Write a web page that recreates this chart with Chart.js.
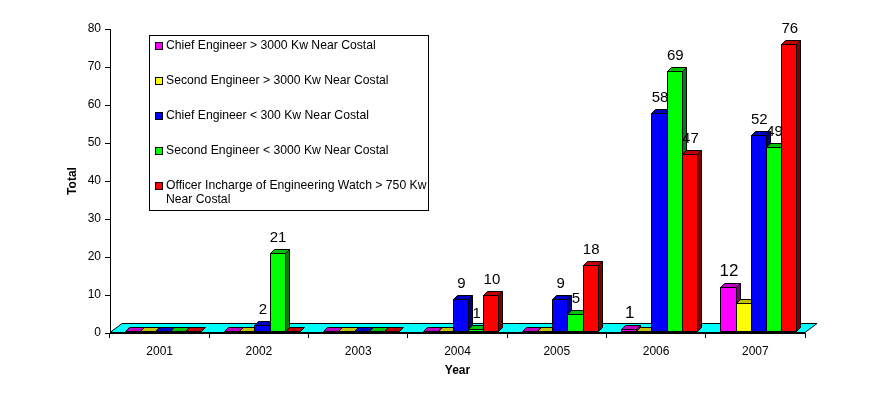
<!DOCTYPE html>
<html>
<head>
<meta charset="utf-8">
<script src="https://cdn.jsdelivr.net/npm/chart.js@4.4.0/dist/chart.umd.min.js"></script>
<style>
  html, body { margin: 0; padding: 0; background: #fff; }
  #wrap { width: 877px; height: 396px; }
</style>
</head>
<body>
<div id="wrap"><canvas id="chart" width="877" height="396"></canvas></div>
<script>
const years = ['2001', '2002', '2003', '2004', '2005', '2006', '2007'];
const seriesNames = [
  'Chief Engineer > 3000 Kw Near Costal',
  'Second Engineer > 3000 Kw Near Costal',
  'Chief Engineer < 300 Kw Near Costal',
  'Second Engineer < 3000 Kw Near Costal',
  'Officer Incharge of Engineering Watch > 750 Kw Near Costal'
];
const chiefAbove3000 = [0, 0, 0, 0, 0, 1, 12];
const secondAbove3000 = [0, 0, 0, 0, 0, 0, 8];
const chiefBelow300 = [0, 2, 0, 9, 9, 58, 52];
const secondBelow3000 = [0, 21, 0, 1, 5, 69, 49];
const officerWatch = [0, 0, 0, 10, 18, 47, 76];
const yMin = 0, yMax = 80, yStep = 10;

// colours for front, top and side faces of the 3d bars
const faceColors = ['#FF00FF', '#FFFF00', '#0000FF', '#00FF00', '#FF0000'];
const topColors = ['#C000C0', '#C0C000', '#0000C0', '#00C000', '#C00000'];
const sideColors = ['#800080', '#808000', '#000080', '#008000', '#800000'];
// label of the yellow 2007 bar is hidden in the original
const hiddenLabels = ['1-6'];

Chart.defaults.font.family = 'Arial, "Liberation Sans", sans-serif';
Chart.defaults.color = '#000';

const allSeries = [chiefAbove3000, secondAbove3000, chiefBelow300, secondBelow3000, officerWatch];
const depth = 4;
const shift = 3; // front faces sit a bit right of the category centre

function poly(ctx, pts, fill) {
  ctx.beginPath();
  ctx.moveTo(pts[0][0], pts[0][1]);
  for (let k = 1; k < pts.length; k++) ctx.lineTo(pts[k][0], pts[k][1]);
  ctx.closePath();
  ctx.fillStyle = fill;
  ctx.fill();
  ctx.stroke();
}

const bar3d = {
  id: 'bar3d',
  beforeDatasetsDraw(chart) {
    const { ctx, chartArea } = chart;
    const y0 = Math.round(chart.scales.y.getPixelForValue(0)) - 0.5;
    ctx.save();
    ctx.strokeStyle = '#000';
    ctx.lineWidth = 1;
    poly(ctx, [
      [chartArea.left, y0],
      [chartArea.right, y0],
      [chartArea.right + 12, y0 - 9],
      [chartArea.left + 12, y0 - 9]
    ], '#00FFFF');
    ctx.restore();
  },
  afterDatasetsDraw(chart) {
    const { ctx } = chart;
    ctx.save();
    ctx.strokeStyle = '#000';
    ctx.lineWidth = 1;
    years.forEach((yr, j) => {
      allSeries.forEach((s, i) => {
        const el = chart.getDatasetMeta(i).data[j];
        const { x, y, base, width } = el.getProps(['x', 'y', 'base', 'width'], true);
        const l = Math.round(x - width / 2 + shift) + 0.5;
        const r = Math.round(x + width / 2 + shift) + 0.5;
        const t = Math.round(y) + 0.5;
        const b = Math.round(base) - 1.5;
        const top = Math.min(t, b);
        if (b - top > 0.5) {
          ctx.fillStyle = faceColors[i];
          ctx.fillRect(l, top, r - l, b - top);
          ctx.strokeRect(l, top, r - l, b - top);
          poly(ctx, [[r, top], [r + depth, top - depth], [r + depth, b - depth], [r, b]], sideColors[i]);
        }
        poly(ctx, [[l, top], [l + depth, top - depth], [r + depth, top - depth], [r, top]], topColors[i]);
      });
    });
    // value labels
    ctx.textAlign = 'center';
    ctx.textBaseline = 'alphabetic';
    ctx.fillStyle = '#000';
    allSeries.forEach((s, i) => {
      ctx.font = (i === 0 ? 17 : 15) + 'px Arial, "Liberation Sans", sans-serif';
      chart.getDatasetMeta(i).data.forEach((el, j) => {
        if (!s[j] || hiddenLabels.includes(i + '-' + j)) return;
        ctx.fillText(String(s[j]), el.x + shift + 1, el.y - 11);
      });
    });
    ctx.restore();
  },
  afterDraw(chart) {
    const { ctx } = chart;
    const box = { x: 149.5, y: 35.5, w: 279, h: 175 };
    ctx.save();
    ctx.fillStyle = '#fff';
    ctx.strokeStyle = '#000';
    ctx.lineWidth = 1;
    ctx.fillRect(box.x, box.y, box.w, box.h);
    ctx.strokeRect(box.x, box.y, box.w, box.h);
    ctx.font = '12.2px Arial, "Liberation Sans", sans-serif';
    ctx.textBaseline = 'middle';
    ctx.textAlign = 'left';
    const textX = 166;
    const maxW = box.x + box.w - textX - 1;
    seriesNames.forEach((name, i) => {
      const cy = 46 + i * 35;
      ctx.fillStyle = faceColors[i];
      ctx.fillRect(155.5, cy - 3.5, 7, 7);
      ctx.strokeRect(155.5, cy - 3.5, 7, 7);
      // word wrap
      const words = name.split(' ');
      const lines = [];
      let line = '';
      words.forEach(w => {
        const test = line ? line + ' ' + w : w;
        if (ctx.measureText(test).width > maxW && line) {
          lines.push(line);
          line = w;
        } else {
          line = test;
        }
      });
      lines.push(line);
      ctx.fillStyle = '#000';
      lines.forEach((ln, k) => ctx.fillText(ln, textX, cy + k * 14));
    });
    ctx.restore();
  }
};

new Chart(document.getElementById('chart'), {
  type: 'bar',
  data: {
    labels: years,
    datasets: allSeries.map((s, i) => ({
      label: seriesNames[i],
      data: s,
      backgroundColor: 'rgba(0,0,0,0)',
      borderWidth: 0,
      barPercentage: 1,
      categoryPercentage: 0.765
    }))
  },
  options: {
    responsive: false,
    animation: false,
    layout: { padding: { top: 29, right: 72, bottom: 0, left: 0 } },
    plugins: {
      legend: { display: false },
      tooltip: { enabled: false }
    },
    scales: {
      x: {
        offset: true,
        grid: { offset: true, drawOnChartArea: false, tickLength: 5, color: '#000' },
        border: { color: '#000' },
        ticks: { font: { size: 12 }, padding: 6, color: '#000' },
        title: { display: true, text: 'Year', font: { size: 12, weight: 'bold' }, padding: { top: 0, bottom: 18 } },
        afterFit: s => { s.height = 63; }
      },
      y: {
        min: yMin,
        max: yMax,
        grid: { drawOnChartArea: false, tickLength: 5, color: '#000' },
        border: { color: '#000' },
        ticks: { stepSize: yStep, font: { size: 12 }, padding: 4, color: '#000' },
        title: { display: true, text: 'Total', font: { size: 12, weight: 'bold' }, padding: { top: 65, bottom: 0 } },
        afterFit: s => { s.width = 110; }
      }
    }
  },
  plugins: [bar3d]
});
</script>
</body>
</html>
